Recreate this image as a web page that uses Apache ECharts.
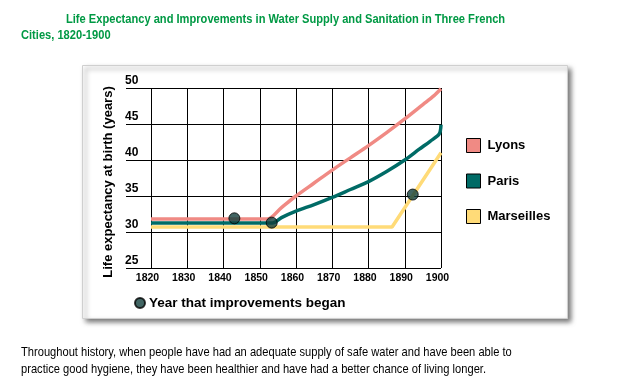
<!DOCTYPE html>
<html>
<head>
<meta charset="utf-8">
<script src="https://cdn.jsdelivr.net/npm/echarts@6/dist/echarts.min.js"></script>
<style>
html,body{margin:0;padding:0;background:#fff;}
#c{width:627px;height:389px;}
</style>
</head>
<body>
<div id="c"></div>
<script>
var titleLine1 = 'Life Expectancy and Improvements in Water Supply and Sanitation in Three French';
var titleLine2 = 'Cities, 1820-1900';
var footLine1 = 'Throughout history, when people have had an adequate supply of safe water and have been able to';
var footLine2 = 'practice good hygiene, they have been healthier and have had a better chance of living longer.';
var yAxisName = 'Life expectancy at birth (years)';
var seriesNames = ['Lyons', 'Paris', 'Marseilles'];
var markerName = 'Year that improvements began';

var lyons = [[1820,31.8],[1852,31.8],[1856,33.4],[1860,35.0],[1865,36.8],[1870,38.6],[1875,40.3],[1880,42.0],[1885,43.8],[1890,45.7],[1895,47.7],[1898,48.9],[1900,49.9]];
var paris = [[1820,31.25],[1853.5,31.25],[1856,32.0],[1860,32.9],[1865,33.8],[1870,34.8],[1875,35.9],[1880,37.0],[1885,38.4],[1890,40.0],[1894,41.5],[1897,42.6],[1899.5,43.6],[1900,44.9]];
var marseilles = [[1820,30.7],[1886.5,30.7],[1900,41.0]];
var improvements = [[1843,31.9],[1853.3,31.3],[1892.2,35.2]];

var colors = ['#f08a84', '#006b66', '#ffdb78'];
var FONT = '"Liberation Sans", Arial, sans-serif';
var GREEN = '#009944';

function txt(str, x, y, size, weight, color, sx) {
  return {type: 'text', x: x, y: y, scaleX: sx, silent: true,
          style: {text: str, font: weight + ' ' + size + 'px ' + FONT, fill: color,
                  textAlign: 'left', textVerticalAlign: 'middle'}};
}

var chart = echarts.init(document.getElementById('c'));
chart.setOption({
  animation: false,
  backgroundColor: '#fff',
  textStyle: {fontFamily: FONT},
  graphic: [
    {type: 'rect', z: -100, silent: true,
     shape: {x: 82.5, y: 65.5, width: 485, height: 253},
     style: {fill: '#fff', stroke: '#cfcfcf', lineWidth: 1,
             shadowColor: 'rgba(0,0,0,0.55)', shadowBlur: 5, shadowOffsetX: 3, shadowOffsetY: 3}},
    txt(titleLine1, 66, 19, 13.5, 'bold', GREEN, 0.823),
    txt(titleLine2, 21, 35, 13.5, 'bold', GREEN, 0.823),
    txt(footLine1, 21, 352, 13.5, 'normal', '#000', 0.825),
    txt(footLine2, 21, 369, 13.5, 'normal', '#000', 0.825),
    {type: 'text', x: 108, y: 182, rotation: Math.PI / 2, silent: true,
     style: {text: yAxisName, font: 'bold 13px ' + FONT, fill: '#000',
             textAlign: 'center', textVerticalAlign: 'middle'}}
  ],
  legend: [
    {data: seriesNames, orient: 'vertical', left: 466, top: 138, padding: 0,
     itemWidth: 14, itemHeight: 14, itemGap: 20.5, icon: 'rect',
     itemStyle: {borderColor: '#000', borderWidth: 1},
     textStyle: {fontFamily: FONT, fontSize: 13, fontWeight: 'bold', color: '#000', padding: [0,0,0,2]}},
    {data: [markerName], left: 134, top: 296, padding: 0,
     itemWidth: 10, itemHeight: 10, icon: 'circle',
     textStyle: {fontFamily: FONT, fontSize: 13.5, fontWeight: 'bold', color: '#000', padding: [0,0,0,-1]}}
  ],
  grid: [
    {left: 126, right: 186, top: 88, height: 180},
    {left: 151, right: 186, top: 88, height: 180}
  ],
  xAxis: [
    {gridIndex: 0, type: 'value', min: 0, max: 1, show: false},
    {gridIndex: 1, type: 'value', min: 1820, max: 1900, interval: 10,
     axisLine: {show: false}, axisTick: {show: false},
     splitLine: {show: true, lineStyle: {color: '#000', width: 1}},
     axisLabel: {margin: 5, fontFamily: FONT, fontSize: 10.5, fontWeight: 'bold', color: '#000',
                 padding: [0,7,0,0],
                 formatter: function (v) { return String(v); }}}
  ],
  yAxis: [
    {gridIndex: 0, type: 'value', min: 25, max: 50, interval: 5,
     axisLine: {show: false}, axisTick: {show: false},
     splitLine: {show: true, lineStyle: {color: '#000', width: 1}},
     axisLabel: {inside: true, margin: -1, align: 'left', verticalAlign: 'bottom', padding: [0,0,1,0],
                 fontFamily: FONT, fontSize: 12, fontWeight: 'bold', color: '#000'}},
    {gridIndex: 1, type: 'value', min: 25, max: 50, interval: 5, show: false, splitLine: {show: false}}
  ],
  series: [
    {name: 'Marseilles', type: 'line', xAxisIndex: 1, yAxisIndex: 1, data: marseilles,
     showSymbol: false, color: colors[2], lineStyle: {width: 3.5, color: colors[2]}, z: 3},
    {name: 'Paris', type: 'line', xAxisIndex: 1, yAxisIndex: 1, data: paris, smooth: 0.3,
     showSymbol: false, color: colors[1], lineStyle: {width: 3.5, color: colors[1]}, z: 4},
    {name: 'Lyons', type: 'line', xAxisIndex: 1, yAxisIndex: 1, data: lyons, smooth: 0.3,
     showSymbol: false, color: colors[0], lineStyle: {width: 3.5, color: colors[0]}, z: 3},
    {name: markerName, type: 'scatter', xAxisIndex: 1, yAxisIndex: 1, data: improvements,
     symbol: 'circle', symbolSize: 11, color: '#123e3c',
     itemStyle: {color: '#123e3c', borderColor: '#000', borderWidth: 1}, z: 5}
  ]
});
</script>
</body>
</html>
